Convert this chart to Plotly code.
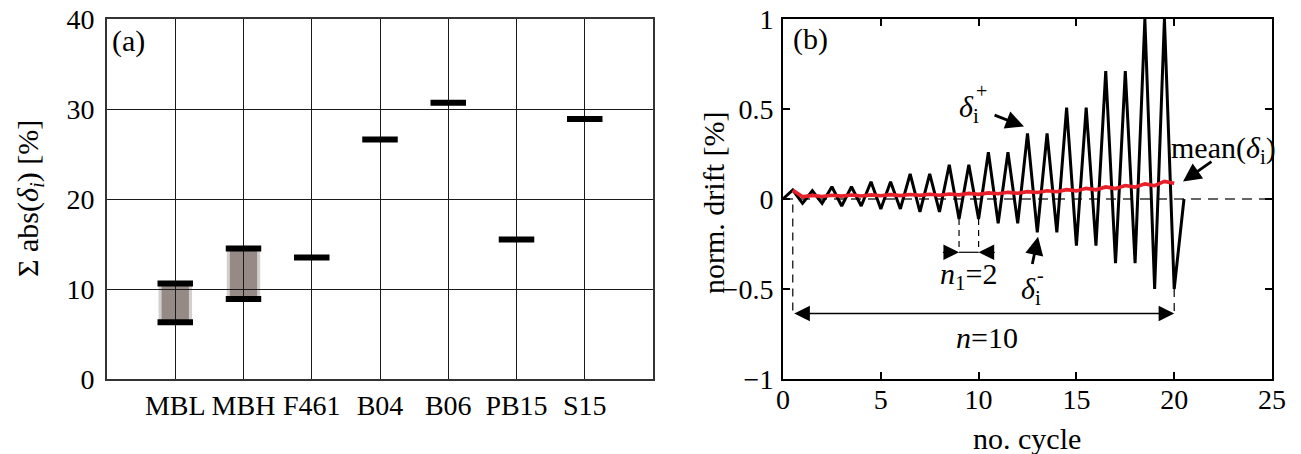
import plotly.graph_objects as go

W, H = 1301, 454
FONT = "Liberation Serif"
FS = 30      # titles and annotations
FS_TICK = 28  # tick labels

# ---- panel (a): summed absolute drift per specimen ----
specimens = ["MBL", "MBH", "F461", "B04", "B06", "PB15", "S15"]
sum_abs_low = [6.3, 8.9, 13.5, 26.6, 30.7, 15.5, 28.9]
sum_abs_high = [10.6, 14.5, 13.5, 26.6, 30.7, 15.5, 28.9]

# ---- panel (b): normalised drift history ----
cycle = [0.0, 0.5, 1.0, 1.5, 2.0, 2.5, 3.0, 3.5, 4.0, 4.5, 5.0, 5.5, 6.0, 6.5,
         7.0, 7.5, 8.0, 8.5, 9.0, 9.5, 10.0, 10.5, 11.0, 11.5, 12.0, 12.5, 13.0,
         13.5, 14.0, 14.5, 15.0, 15.5, 16.0, 16.5, 17.0, 17.5, 18.0, 18.5, 19.0,
         19.5, 20.0, 20.5]
drift = [0.0, 0.05, -0.024, 0.046, -0.024, 0.068, -0.039, 0.068, -0.039, 0.096,
         -0.055, 0.096, -0.055, 0.139, -0.072, 0.139, -0.072, 0.19, -0.111, 0.19,
         -0.111, 0.26, -0.135, 0.26, -0.135, 0.364, -0.185, 0.364, -0.185, 0.508,
         -0.259, 0.508, -0.259, 0.71, -0.357, 0.71, -0.357, 1.0, -0.5, 1.0, -0.5, 0.0]
mean_cycle = [0.5, 1.0, 1.5, 2.0, 2.5, 3.0, 3.5, 4.0, 4.5, 5.0, 5.5, 6.0, 6.5, 7.0,
              7.5, 8.0, 8.5, 9.0, 9.5, 10.0, 10.5, 11.0, 11.5, 12.0, 12.5, 13.0,
              13.5, 14.0, 14.5, 15.0, 15.5, 16.0, 16.5, 17.0, 17.5, 18.0, 18.5,
              19.0, 19.5, 20.0]
mean_drift = [0.048, 0.012, 0.02, 0.014, 0.021, 0.016, 0.022, 0.017, 0.023, 0.018,
              0.024, 0.019, 0.025, 0.020, 0.026, 0.021, 0.028, 0.023, 0.031, 0.026,
              0.034, 0.029, 0.037, 0.032, 0.041, 0.036, 0.046, 0.040, 0.052, 0.045,
              0.059, 0.051, 0.067, 0.058, 0.075, 0.066, 0.084, 0.074, 0.098, 0.088]

# plot-area pixel boxes
A_X0, A_X1 = 107, 653
B_X0, B_X1 = 783, 1272
Y_TOP, Y_BOT = 19, 379
ydom = [1 - Y_BOT / H, 1 - Y_TOP / H]

fig = go.Figure()

# shaded ranges and bars for panel (a)
xpos = list(range(1, len(specimens) + 1))
shapes = []
for x, lo, hi in zip(xpos, sum_abs_low, sum_abs_high):
    if hi > lo:
        shapes.append(dict(type="rect", xref="x", yref="y", layer="below",
                           x0=x - 0.245, x1=x + 0.245, y0=lo, y1=hi,
                           fillcolor="#d2cfce", line=dict(width=0)))
        shapes.append(dict(type="rect", xref="x", yref="y", layer="below",
                           x0=x - 0.2, x1=x + 0.2, y0=lo, y1=hi,
                           fillcolor="#958a85", line=dict(width=0)))

bx, by = [], []
for x, lo, hi in zip(xpos, sum_abs_low, sum_abs_high):
    for v in sorted(set([lo, hi])):
        bx += [x - 0.26, x + 0.26, None]
        by += [v, v, None]
fig.add_trace(go.Scatter(x=bx, y=by, mode="lines", xaxis="x", yaxis="y",
                         line=dict(color="black", width=6), showlegend=False,
                         hoverinfo="skip"))

# panel (b) traces
fig.add_trace(go.Scatter(x=cycle, y=drift, mode="lines", xaxis="x2", yaxis="y2",
                         line=dict(color="black", width=3), showlegend=False,
                         cliponaxis=True))
fig.add_trace(go.Scatter(x=mean_cycle, y=mean_drift, mode="lines", xaxis="x2", yaxis="y2",
                         line=dict(color="#e8202a", width=3.6), showlegend=False))

# guide lines in panel (b)
dash_big = "10px,7px"
n_level = -0.636
n1_level = -0.296
shapes += [
    dict(type="line", xref="x2", yref="y2", x0=0, x1=25, y0=0, y1=0,
         line=dict(color="#333333", width=1.6, dash=dash_big), layer="below"),
    dict(type="line", xref="x2", yref="y2", x0=cycle[1], x1=cycle[1], y0=-0.03, y1=n_level,
         line=dict(color="black", width=1.2, dash="8px,6px")),
    dict(type="line", xref="x2", yref="y2", x0=cycle[40], x1=cycle[40], y0=drift[40], y1=n_level,
         line=dict(color="black", width=1.2, dash="8px,6px")),
    dict(type="line", xref="x2", yref="y2", x0=cycle[18], x1=cycle[18], y0=drift[18], y1=n1_level,
         line=dict(color="black", width=1.2, dash="6px,5px")),
    dict(type="line", xref="x2", yref="y2", x0=cycle[20], x1=cycle[20], y0=drift[20], y1=n1_level,
         line=dict(color="black", width=1.2, dash="6px,5px")),
    dict(type="line", xref="x2", yref="y2", x0=cycle[18], x1=cycle[20], y0=n1_level, y1=n1_level,
         line=dict(color="black", width=1.2)),
]

ann = []


def arrow(x, y, ax, ay, side="end", size=1.6, width=1.5, head=2):
    ann.append(dict(x=x, y=y, ax=ax, ay=ay, xref="x2", yref="y2",
                    axref="x2", ayref="y2", showarrow=True, text="",
                    arrowhead=head, arrowsize=size, arrowwidth=width,
                    arrowcolor="black", arrowside=side, startarrowhead=head,
                    startarrowsize=size))


def label(text, x, y, xref="x2", yref="y2", xanchor="center", size=FS):
    ann.append(dict(x=x, y=y, xref=xref, yref=yref,
                    text=text, showarrow=False, xanchor=xanchor, yanchor="middle",
                    font=dict(family=FONT, size=size, color="black")))


# n = 10 dimension arrow
arrow(cycle[40], n_level, cycle[1], n_level, side="end+start", size=2.4, width=1.3)
# n1 = 2 dimension arrows (pointing inwards)
arrow(cycle[18], n1_level, 8.1, n1_level, size=2.4, width=1.3)
arrow(cycle[20], n1_level, 10.9, n1_level, size=2.4, width=1.3)
# peak / trough / mean pointers
arrow(12.32, 0.403, 10.74, 0.469, size=1.3, width=2.8)
arrow(13.04, -0.21, 12.73, -0.369, size=1.3, width=2.8)
arrow(20.45, 0.097, 21.98, 0.214, size=1.3, width=2.8)

# delta labels with stacked index and sign
label("<i>δ</i><sub>i</sub>", 9.5, 0.5)
label("+", 10.15, 0.6, size=20)
label("<i>δ</i><sub>i</sub>", 12.7, -0.51)
label("-", 13.15, -0.42, size=20)
label("mean(<i>δ</i><sub>i</sub>)", 22.5, 0.27)
label("<i>n</i><sub>1</sub>=2", 9.5, -0.43)
label("<i>n</i>=10", 10.45, -0.77)
label("(b)", 0.4, 0.89, xanchor="left")
label("(a)", 0.05, 37.6, xref="x", yref="y", xanchor="left")

# axis titles
ann.append(dict(x=30 / W, y=1 - 199 / H, xref="paper", yref="paper", showarrow=False,
                xanchor="center", yanchor="middle",
                text="Σ abs(<i>δ<sub>i</sub></i>) [%]", textangle=-90,
                font=dict(family=FONT, size=FS, color="black")))
ann.append(dict(x=713 / W, y=1 - 203 / H, xref="paper", yref="paper", showarrow=False,
                xanchor="center", yanchor="middle",
                text="norm. drift [%]", textangle=-90,
                font=dict(family=FONT, size=FS, color="black")))
ann.append(dict(x=1027 / W, y=1 - 438 / H, xref="paper", yref="paper", showarrow=False,
                xanchor="center", yanchor="middle",
                text="no. cycle", font=dict(family=FONT, size=FS, color="black")))

tickfont = dict(family=FONT, size=FS_TICK, color="black")

fig.update_layout(
    template="none",
    width=W, height=H, margin=dict(l=0, r=0, t=0, b=0, pad=0, autoexpand=False),
    paper_bgcolor="white", plot_bgcolor="white",
    showlegend=False, shapes=shapes, annotations=ann,
    xaxis=dict(domain=[A_X0 / W, A_X1 / W], range=[0, 8], tickvals=xpos,
               ticktext=specimens, showgrid=True, gridcolor="#1a1a1a", gridwidth=1,
               zeroline=False, showline=True, linecolor="#333333", linewidth=2,
               mirror=True, ticks="", tickfont=tickfont, ticklabelstandoff=0,
               tickangle=0, anchor="y", automargin=False),
    yaxis=dict(domain=ydom, range=[0, 40], tickvals=[0, 10, 20, 30, 40],
               showgrid=True, gridcolor="#1a1a1a", gridwidth=1, zeroline=False,
               showline=True, linecolor="#333333", linewidth=2, mirror=True,
               ticks="", tickfont=tickfont, ticklabelstandoff=5, anchor="x",
               automargin=False),
    xaxis2=dict(domain=[B_X0 / W, B_X1 / W], range=[0, 25], tickvals=[0, 5, 10, 15, 20, 25],
                showgrid=False, zeroline=False, showline=True, linecolor="black",
                linewidth=2, mirror="ticks", ticks="inside", ticklen=7, tickwidth=1.5,
                tickcolor="black", tickfont=tickfont, ticklabelstandoff=-6,
                tickangle=0, anchor="y2", automargin=False),
    yaxis2=dict(domain=ydom, range=[-1, 1], tickvals=[-1, -0.5, 0, 0.5, 1],
                showgrid=False, zeroline=False, showline=True, linecolor="black",
                linewidth=2, mirror="ticks", ticks="inside", ticklen=7, tickwidth=1.5,
                tickcolor="black", tickfont=tickfont, ticklabelstandoff=2, anchor="x2",
                automargin=False),
)

fig.write_html("out.html")
